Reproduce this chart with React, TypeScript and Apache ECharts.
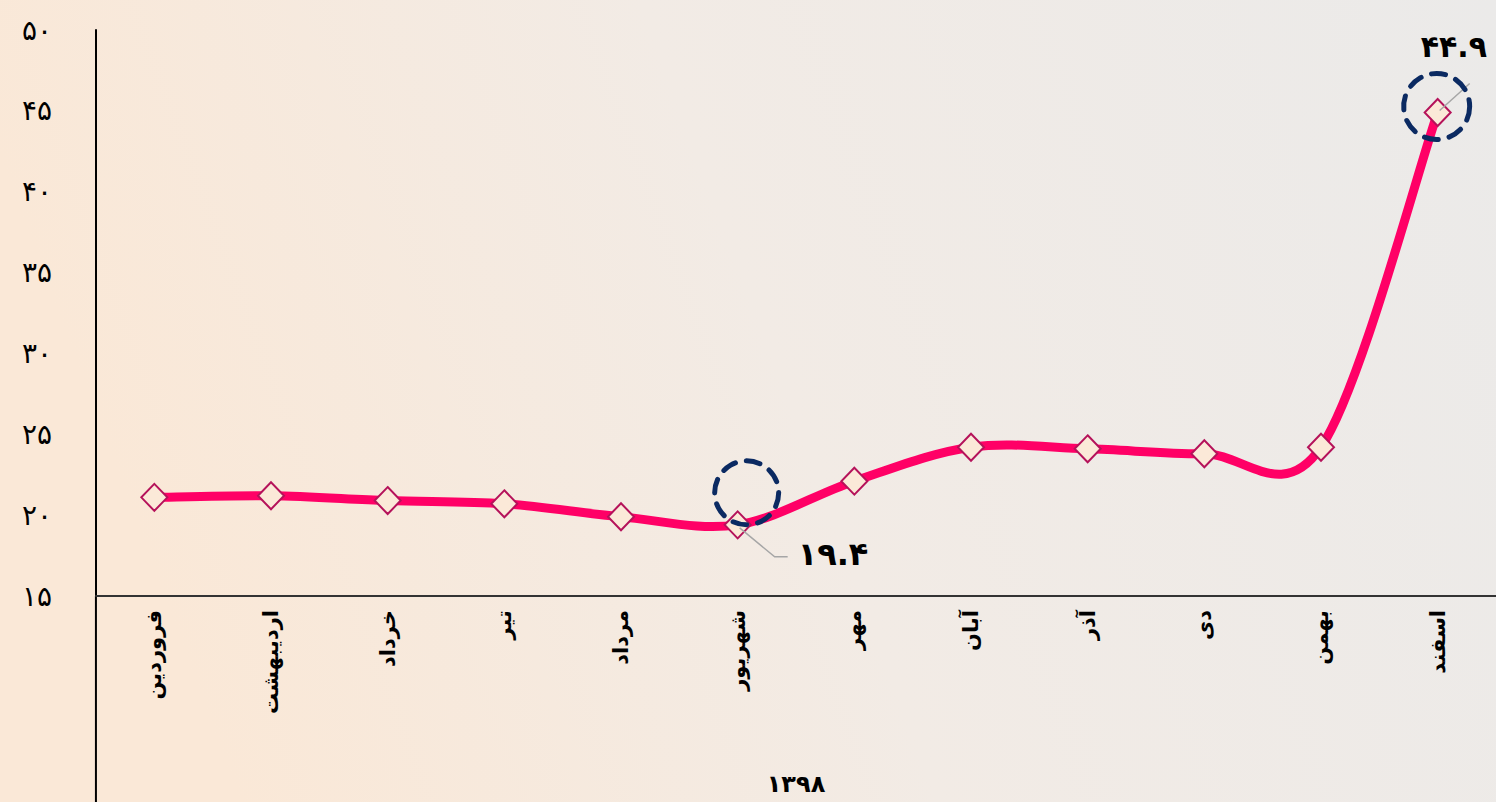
import React, { useEffect, useRef } from "react";
import * as echarts from "echarts";

const categories = ["فروردین", "اردیبهشت", "خرداد", "تیر", "مرداد", "شهریور", "مهر", "آبان", "آذر", "دی", "بهمن", "اسفند"];
const values = [21.1, 21.2, 20.9, 20.7, 19.9, 19.4, 22.1, 24.2, 24.1, 23.8, 24.2, 44.9];
const yMin = 15;
const yMax = 50;
const yInterval = 5;
const groupLabel = "۱۳۹۸";
const highlightedIdx = [5, 11];

const FA = "۰۱۲۳۴۵۶۷۸۹";
const toFa = (v: number | string) => String(v).replace(/\d/g, (d) => FA[Number(d)]);

const FONT = "DejaVu Sans";

// Excel-style smoothing (Catmull-Rom converted to cubic Bezier)
function smoothPath(pts: number[][]): string {
  const n = pts.length;
  let d = `M${pts[0][0]},${pts[0][1]}`;
  for (let i = 0; i < n - 1; i++) {
    const p0 = pts[Math.max(i - 1, 0)];
    const p1 = pts[i];
    const p2 = pts[i + 1];
    const p3 = pts[Math.min(i + 2, n - 1)];
    const c1x = p1[0] + (p2[0] - p0[0]) / 6;
    const c1y = p1[1] + (p2[1] - p0[1]) / 6;
    const c2x = p2[0] - (p3[0] - p1[0]) / 6;
    const c2y = p2[1] - (p3[1] - p1[1]) / 6;
    d += ` C${c1x},${c1y} ${c2x},${c2y} ${p2[0]},${p2[1]}`;
  }
  return d;
}

export default function App() {
  const ref = useRef<HTMLDivElement>(null);
  useEffect(() => {
    document.body.style.margin = "0";
    const chart = echarts.init(ref.current!, null, { renderer: "svg" });
    const data = values.map((v, i) => {
      if (i === 5) {
        return { value: v, label: { show: true, position: "right", offset: [41, 29] } };
      }
      if (i === 11) {
        return { value: v, label: { show: true, position: "right", offset: [-36, -66], fontSize: 30 } };
      }
      return v;
    });
    chart.setOption({
      animation: false,
      backgroundColor: {
        type: "linear",
        x: 0,
        y: 0.2,
        x2: 1,
        y2: 0,
        colorStops: [
          { offset: 0, color: "#FAE8D7" },
          { offset: 0.45, color: "#F2EBE5" },
          { offset: 1, color: "#EBEAE9" },
        ],
      },
      grid: { left: 96, top: 30, width: 1401, height: 566, containLabel: false },
      xAxis: {
        type: "category",
        data: categories,
        boundaryGap: true,
        axisLine: { show: true, lineStyle: { color: "#333", width: 2 } },
        axisTick: { show: false },
        axisLabel: {
          rotate: 90,
          margin: 14,
          fontFamily: FONT,
          fontWeight: "bold",
          fontSize: 21,
          color: "#000",
        },
        name: groupLabel,
        nameLocation: "middle",
        nameGap: 176,
        nameTextStyle: { fontFamily: FONT, fontWeight: "bold", fontSize: 24, color: "#000" },
        splitLine: { show: false },
      },
      yAxis: {
        type: "value",
        min: yMin,
        max: yMax,
        interval: yInterval,
        axisLine: { show: true, lineStyle: { color: "#000", width: 2 } },
        axisTick: { show: false },
        splitLine: { show: false },
        axisLabel: {
          margin: 44,
          fontFamily: FONT,
          fontSize: 28,
          color: "#000",
          padding: [0, 0, 10, 0],
          formatter: (v: number) => toFa(v),
        },
      },
      series: [
        {
          type: "custom",
          data: values.map((v, i) => [i, v]),
          z: 2,
          silent: true,
          renderItem: (params: any, api: any) => {
            if (params.dataIndex !== 0) return null;
            const pts = values.map((v, i) => api.coord([i, v]));
            return {
              type: "path",
              shape: { pathData: smoothPath(pts) },
              style: { fill: "none", stroke: "#FF0066", lineWidth: 9, lineCap: "round", lineJoin: "round" },
            };
          },
        },
        {
          type: "line",
          data,
          symbol: "diamond",
          symbolSize: [26, 27],
          lineStyle: { width: 0, opacity: 0 },
          itemStyle: { color: "#FBE9D8", borderColor: "#B5125A", borderWidth: 2 },
          label: {
            show: false,
            fontFamily: FONT,
            fontWeight: "bold",
            fontSize: 32,
            color: "#000",
            formatter: (p: any) => toFa(p.value),
          },
          z: 3,
        },
      ],
    });

    const graphics: any[] = [];
    highlightedIdx.forEach((i) => {
      const p = chart.convertToPixel({ seriesIndex: 1 }, [i, values[i]]) as number[];
      if (i === 5) {
        graphics.push({
          type: "circle",
          shape: { cx: p[0] + 9, cy: p[1] - 32, r: 32 },
          style: { fill: "none", stroke: "#0B2A62", lineWidth: 5, lineDash: [14, 11], lineCap: "round" },
          z: 10,
        });
        graphics.push({
          type: "polyline",
          shape: { points: [[p[0] + 2, p[1] + 3], [p[0] + 37, p[1] + 32], [p[0] + 50, p[1] + 32]] },
          style: { fill: "none", stroke: "#A6A6A6", lineWidth: 1.5 },
          z: 9,
        });
      } else {
        graphics.push({
          type: "circle",
          shape: { cx: p[0] - 1, cy: p[1] - 6, r: 33 },
          style: { fill: "none", stroke: "#0B2A62", lineWidth: 5, lineDash: [14, 11], lineCap: "round" },
          z: 10,
        });
        graphics.push({
          type: "line",
          shape: { x1: p[0] + 2, y1: p[1] - 2, x2: p[0] + 32, y2: p[1] - 29 },
          style: { stroke: "#A6A6A6", lineWidth: 1.5 },
          z: 9,
        });
      }
    });
    const origin = chart.convertToPixel({ seriesIndex: 1 }, [0, yMin]) as number[];
    const axisX = origin[0] - 58.4;
    graphics.push({
      type: "line",
      shape: { x1: axisX, y1: origin[1], x2: axisX, y2: 802 },
      style: { stroke: "#000", lineWidth: 2 },
    });
    chart.setOption({ graphic: graphics });
    return () => chart.dispose();
  }, []);
  return <div ref={ref} style={{ position: "fixed", left: 0, top: 0, width: 1496, height: 802 }} />;
}
